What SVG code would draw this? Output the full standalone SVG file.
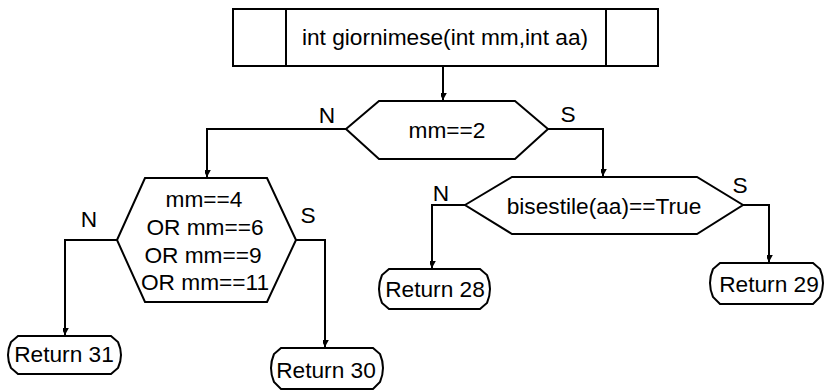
<svg xmlns="http://www.w3.org/2000/svg" width="825" height="391" viewBox="0 0 825 391">
<style>
.s{fill:#fff;stroke:#000;stroke-width:2;stroke-linejoin:miter}
.c{fill:none;stroke:#000;stroke-width:2}
text{font-family:"Liberation Sans",Arial,sans-serif;font-size:22.7px;fill:#000;text-anchor:middle}
</style>
<defs>
<marker id="ah" markerUnits="userSpaceOnUse" markerWidth="14" markerHeight="14" viewBox="-7 -12 14 14" refX="0" refY="0" orient="auto-start-reverse">
<path d="M-6,-11 L0,0 L6,-11 L0,-6 Z" transform="rotate(-90)" fill="#000"/>
</marker>
</defs>
<rect width="825" height="391" fill="#fff"/>
<g id="connectors">
<path class="c" d="M443,66 V100" marker-end="url(#ah)"/>
<path class="c" d="M346,129 H207 V177" marker-end="url(#ah)"/>
<path class="c" d="M548,129 H603 V176" marker-end="url(#ah)"/>
<path class="c" d="M117,240 H65 V335" marker-end="url(#ah)"/>
<path class="c" d="M296,240 H325 V347" marker-end="url(#ah)"/>
<path class="c" d="M465,205 H432 V268" marker-end="url(#ah)"/>
<path class="c" d="M743,205 H769 V262" marker-end="url(#ah)"/>
<text x="327" y="123">N</text>
<text x="568" y="122">S</text>
<text x="89" y="227">N</text>
<text x="308" y="223">S</text>
<text x="441" y="201">N</text>
<text x="740" y="193">S</text>
</g>
<g id="start">
<rect class="s" x="233" y="9" width="425" height="57"/>
<line class="c" x1="286" y1="9" x2="286" y2="66"/>
<line class="c" x1="606" y1="9" x2="606" y2="66"/>
<text x="445" y="45">int giornimese(int mm,int aa)</text>
</g>
<g id="dec-mm2">
<polygon class="s" points="346,129 379,101 515,101 548,129 515,159 379,159"/>
<text x="447" y="138">mm==2</text>
</g>
<g id="dec-mm4">
<polygon class="s" points="117,240 145,178 267,178 296,240 267,302 145,302"/>
<text x="204" y="207">mm==4</text>
<text x="205" y="235">OR mm==6</text>
<text x="203" y="263">OR mm==9</text>
<text x="205" y="290">OR mm==11</text>
</g>
<g id="dec-bis">
<polygon class="s" points="465,205 512,177 697,177 743,205 697,234 512,234"/>
<text x="604" y="214">bisestile(aa)==True</text>
</g>
<g id="ret31">
<path class="s" d="M18,336 H111 L118,342 Q124,355 118,368 L111,374 H18 L11,368 Q5,355 11,342 Z"/>
<text x="64" y="362">Return 31</text>
</g>
<g id="ret30">
<path class="s" d="M281,348 H373 L380,354 Q386,368 380,382 L373,389 H281 L274,382 Q268,368 274,354 Z"/>
<text x="326" y="378">Return 30</text>
</g>
<g id="ret28">
<path class="s" d="M389,269 H480 L487,275 Q493,289 487,303 L480,309 H389 L382,303 Q376,289 382,275 Z"/>
<text x="435" y="297">Return 28</text>
</g>
<g id="ret29">
<path class="s" d="M720,263 H813 L820,269 Q826,283 820,297 L813,304 H720 L713,297 Q707,283 713,269 Z"/>
<text x="769" y="292">Return 29</text>
</g>
</svg>
